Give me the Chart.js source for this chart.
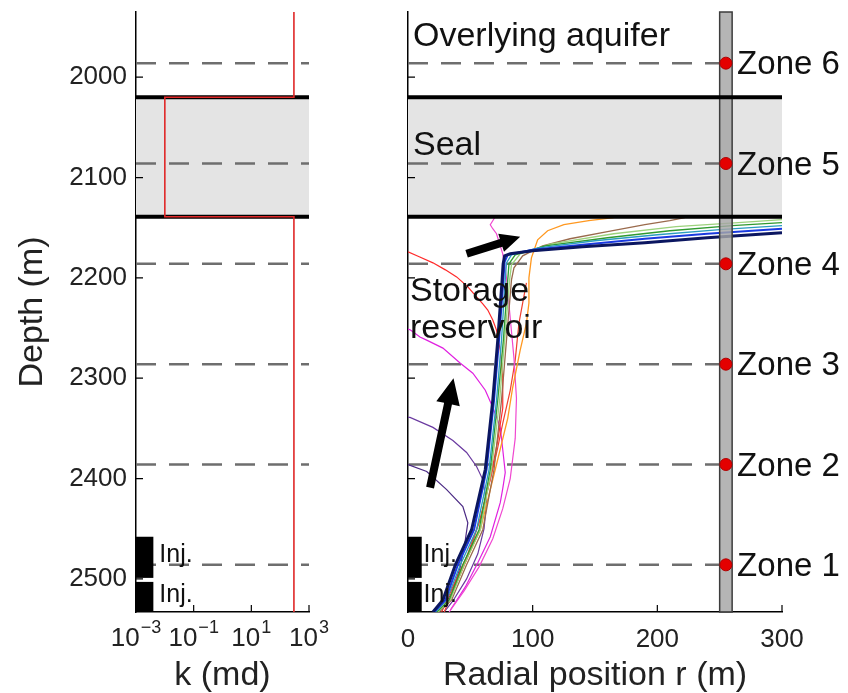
<!DOCTYPE html>
<html>
<head>
<meta charset="utf-8">
<script src="https://cdn.jsdelivr.net/npm/chart.js@4.4.0/dist/chart.umd.min.js"></script>
<style>
  html, body { margin: 0; padding: 0; background: #fff; }
  #wrap { position: relative; width: 848px; height: 693px; overflow: hidden; }
  canvas { position: absolute; top: 0; }
  #kCanvas { left: 0; }
  #rCanvas { left: 380px; }
</style>
</head>
<body>
<div id="wrap">
  <canvas id="kCanvas" width="380" height="693"></canvas>
  <canvas id="rCanvas" width="468" height="693"></canvas>
</div>
<script>
// ---- axis ticks ----
const depthTicks = [2000, 2100, 2200, 2300, 2400, 2500];
const kTicks = [1e-3, 1e-1, 1e1, 1e3];
const kExponents = ['\u22123', '\u22121', '1', '3'];
const rTicks = [0, 100, 200, 300];
const depthMin = 1935, depthMax = 2533;

// ---- layering ----
const sealTop = 2020, sealBase = 2139;
const kAquifer = 300, kSeal = 0.01;
const injTops = [2458, 2503];
const injBases = [2499, 2533];

// ---- monitoring well and zones ----
const wellInner = 250, wellOuter = 260, zoneRadius = 255;
const zoneNames = ['Zone 1', 'Zone 2', 'Zone 3', 'Zone 4', 'Zone 5', 'Zone 6'];
const zoneDepths = [2486, 2386, 2286, 2186, 2086, 1986];

// ---- plume outlines: [radius r (m), depth (m)] ----
const plumeVioletB = [[0,2386],[15,2393],[31,2411],[44,2428],[48,2444],[46,2461],[42,2488],[35,2514],[27,2531]];
const plumeVioletA = [[0,2339],[1.6,2339],[20,2349],[36,2362],[47,2374],[55,2388],[60,2401],[63,2424],[61,2450],[56,2475],[47,2500],[36,2522],[29,2533]];
const plumeMagenta = [[0,2251],[2,2252],[9.6,2259],[15,2262],[28,2270],[42,2285],[52,2295],[62,2312],[68,2329],[74,2349],[76,2371],[78,2394],[76,2410],[74,2424],[66,2458],[56,2484],[46,2508],[34,2531]];
const plumeRed = [[0,2174],[9,2179],[20,2185],[30,2192],[39,2199],[48,2209],[55,2219],[60,2226],[64,2232],[68,2242],[71,2252],[74,2272],[76,2300],[76,2330],[72,2362],[66,2400],[58,2440],[48,2475],[37,2505],[27,2533]];
const plumeRed2 = [[95,2205],[92,2225],[89,2245],[87.6,2262],[86,2282],[82,2312],[76,2345],[71.5,2372],[66,2401],[58,2440],[48,2478],[37,2510],[29,2533]];
const plumePink = [[70,2139],[68,2143],[66,2147],[68,2151],[71,2156],[73,2164],[76,2176],[79,2200],[82,2240],[85,2280],[87,2320],[86,2360],[82,2400],[76,2430],[68,2460],[57,2488],[45,2512],[33,2533]];
const plumeOrange = [[24,2533],[33,2521],[45,2486],[58,2451],[70,2391],[80,2340],[84,2309],[90,2272],[95,2245],[97,2225],[97,2200],[99,2180],[104,2162],[112,2153],[125,2147],[145,2143],[165,2140]];
const plumeBrown = [[25,2533],[35,2521],[47,2486],[60,2451],[69,2391],[75,2322],[79,2262],[83,2202],[85,2190],[92,2178],[108,2168],[130,2161],[160,2154],[190,2147],[210,2143],[222,2140]];
const plumeLightGreen = [[24,2533],[34,2521],[45,2486],[58,2451],[67,2391],[73.5,2322],[77.5,2262],[81.5,2202],[83,2187],[90,2176],[115,2166],[165,2156],[215,2149],[265,2145],[300,2142]];
const plumeGreen = [[23,2533],[33,2521],[44,2486],[57,2451],[66,2391],[72,2322],[76.5,2262],[80,2202],[81,2186],[86,2177],[110,2168],[160,2160],[210,2153],[260,2148],[300,2145]];
const plumeTeal = [[22,2533],[31,2521],[42,2486],[55,2451],[65,2391],[71,2322],[75,2262],[78,2202],[79,2185],[83,2177],[105,2170],[150,2163],[200,2157],[250,2152],[300,2148]];
const plumeBlue = [[21,2533],[30,2521],[40,2486],[53,2451],[63,2391],[69,2322],[73,2262],[76.5,2202],[77.5,2184],[80,2177],[100,2172],[140,2167],[190,2161],[240,2156],[300,2151]];
const plumeNavy = [[20,2533],[28,2521],[38,2486],[51,2451],[62,2391],[68,2322],[72,2262],[75.5,2202],[76.3,2186],[77.5,2178],[82,2176],[100,2173],[140,2169],[190,2165],[240,2160],[300,2155]];

// drawing order: first entry ends up on top
const plumes = [
  { data: plumeNavy, color: '#0b1660', width: 3 },
  { data: plumeBlue, color: '#1a3ae0', width: 2 },
  { data: plumeTeal, color: '#2a9cc0', width: 1.3 },
  { data: plumeGreen, color: '#2f9a2f', width: 1.3 },
  { data: plumeLightGreen, color: '#9cd27c', width: 1.3 },
  { data: plumeBrown, color: '#9a6a4c', width: 1.3 },
  { data: plumeOrange, color: '#ff9820', width: 1.3 },
  { data: plumePink, color: '#f048d0', width: 1.2 },
  { data: plumeRed2, color: '#f04030', width: 1.2 },
  { data: plumeRed, color: '#ff2a2a', width: 1.2 },
  { data: plumeMagenta, color: '#e020e0', width: 1.2 },
  { data: plumeVioletA, color: '#6a3aa0', width: 1.2 },
  { data: plumeVioletB, color: '#4b2a84', width: 1.2 }
];

const FONT = '"Liberation Sans", Arial, Helvetica, sans-serif';
Chart.defaults.font.family = FONT;
Chart.defaults.color = '#222';

const toXY = pts => pts.map(p => ({ x: p[0], y: p[1] }));
const hLine = (x0, x1, d) => [{ x: x0, y: d }, { x: x1, y: d }];

function depthScale(withLabels) {
  return {
    type: 'linear', reverse: true, min: depthMin, max: depthMax,
    afterBuildTicks: s => { s.ticks = depthTicks.map(v => ({ value: v })); },
    afterFit: s => { s.width = withLabels ? 136 : 28; s.paddingTop = 0; s.paddingBottom = 0; },
    grid: { display: false, drawTicks: false },
    border: { display: true, color: '#000', width: 1.5 },
    ticks: { display: withLabels, padding: 9, color: '#222', font: { size: 26 }, callback: v => String(v) },
    title: { display: withLabels, text: 'Depth (m)', color: '#222', font: { size: 34, lineHeight: 1 }, padding: { top: 16, bottom: 0 } }
  };
}

// inward tick marks on the left and bottom axes
const inwardTicks = {
  id: 'inwardTicks',
  afterDraw(chart) {
    const { ctx, chartArea: a, scales: { x, y } } = chart;
    ctx.save();
    ctx.strokeStyle = '#000';
    ctx.lineWidth = 1.2;
    ctx.beginPath();
    x.ticks.forEach(t => { const px = x.getPixelForValue(t.value); ctx.moveTo(px, a.bottom); ctx.lineTo(px, a.bottom - 7); });
    y.ticks.forEach(t => { const py = y.getPixelForValue(t.value); ctx.moveTo(a.left, py); ctx.lineTo(a.left + 7, py); });
    ctx.stroke();
    ctx.restore();
  }
};

// seal shading and injection intervals, shared by both panels
function sealShade(chart) {
  const { ctx, chartArea: a, scales: { y } } = chart;
  const y0 = y.getPixelForValue(sealTop), y1 = y.getPixelForValue(sealBase);
  ctx.save();
  ctx.fillStyle = '#e4e4e4';
  ctx.fillRect(a.left, y0, a.right - a.left, y1 - y0);
  ctx.restore();
}
function injBlocks(chart, xFrom, xTo, labelX) {
  const { ctx, scales: { x, y } } = chart;
  const px0 = x.getPixelForValue(xFrom), px1 = x.getPixelForValue(xTo);
  ctx.save();
  ctx.fillStyle = '#000';
  injTops.forEach((top, i) => {
    const y0 = y.getPixelForValue(top), y1 = y.getPixelForValue(injBases[i]);
    ctx.fillRect(px0, y0, px1 - px0, y1 - y0);
  });
  ctx.font = '25px ' + FONT;
  ctx.fillStyle = '#111';
  ctx.textBaseline = 'alphabetic';
  ctx.textAlign = 'left';
  ctx.fillText('Inj.', labelX, y.getPixelForValue(2483));
  ctx.fillText('Inj.', labelX, y.getPixelForValue(2523));
  ctx.restore();
}

// ---------------- permeability panel ----------------
const kPanel = {
  id: 'kPanel',
  beforeDatasetsDraw(chart) { sealShade(chart); },
  afterDatasetsDraw(chart) {
    const px = chart.scales.x.getPixelForValue(4e-3);
    injBlocks(chart, 1e-3, 4e-3, px + 6);
  },
  afterDraw(chart) {
    const { ctx, chartArea: a, scales: { x } } = chart;
    ctx.save();
    ctx.fillStyle = '#222';
    ctx.textBaseline = 'alphabetic';
    ctx.textAlign = 'left';
    kTicks.forEach((v, i) => {
      const cx = x.getPixelForValue(v);
      ctx.font = '26px ' + FONT;
      const wb = ctx.measureText('10').width;
      ctx.font = '18px ' + FONT;
      const we = ctx.measureText(kExponents[i]).width;
      const left = cx - (wb + we + 1) / 2;
      ctx.font = '26px ' + FONT;
      ctx.fillText('10', left, a.bottom + 34);
      ctx.font = '18px ' + FONT;
      ctx.fillText(kExponents[i], left + wb + 1, a.bottom + 21);
    });
    ctx.restore();
  }
};

const kProfile = [
  { x: kAquifer, y: depthMin }, { x: kAquifer, y: sealTop }, { x: kSeal, y: sealTop },
  { x: kSeal, y: sealBase }, { x: kAquifer, y: sealBase }, { x: kAquifer, y: depthMax }
];

new Chart(document.getElementById('kCanvas'), {
  type: 'scatter',
  data: {
    datasets: [
      { label: 'k', data: kProfile, showLine: true, borderColor: '#e02828', borderWidth: 1.6, pointRadius: 0 },
      { label: 'Seal top', data: hLine(1e-3, 1e3, sealTop), showLine: true, borderColor: '#000', borderWidth: 4, pointRadius: 0 },
      { label: 'Seal base', data: hLine(1e-3, 1e3, sealBase), showLine: true, borderColor: '#000', borderWidth: 4, pointRadius: 0 },
      ...zoneDepths.map(d => ({ label: 'level', data: hLine(1e-3, 1e3, d), showLine: true, borderColor: '#6e6e6e', borderWidth: 2.5, borderDash: [20, 13], pointRadius: 0 }))
    ]
  },
  options: {
    responsive: false, animation: false, devicePixelRatio: 1,
    layout: { padding: { left: 0, top: 12, right: 71, bottom: 0 } },
    plugins: { legend: { display: false }, tooltip: { enabled: false } },
    scales: {
      x: {
        type: 'logarithmic', min: 1e-3, max: 1e3,
        afterBuildTicks: s => { s.ticks = kTicks.map(v => ({ value: v })); },
        afterFit: s => { s.height = 81; s.paddingLeft = 0; s.paddingRight = 0; },
        grid: { display: false, drawTicks: false },
        border: { display: true, color: '#000', width: 1.5 },
        ticks: { display: false },
        title: { display: true, text: 'k (md)', color: '#222', font: { size: 34, lineHeight: 1 }, padding: { top: 0, bottom: 0 } }
      },
      y: depthScale(true)
    }
  },
  plugins: [kPanel, inwardTicks]
});

// ---------------- radial panel ----------------
function drawArrow(ctx, x0, y0, x1, y1, shaft, headLen, headW) {
  const ang = Math.atan2(y1 - y0, x1 - x0);
  const len = Math.hypot(x1 - x0, y1 - y0);
  ctx.save();
  ctx.translate(x0, y0);
  ctx.rotate(ang);
  ctx.beginPath();
  ctx.moveTo(0, -shaft / 2);
  ctx.lineTo(len - headLen, -shaft / 2);
  ctx.lineTo(len - headLen, -headW / 2);
  ctx.lineTo(len, 0);
  ctx.lineTo(len - headLen, headW / 2);
  ctx.lineTo(len - headLen, shaft / 2);
  ctx.lineTo(0, shaft / 2);
  ctx.closePath();
  ctx.fillStyle = '#000';
  ctx.fill();
  ctx.restore();
}

const rPanel = {
  id: 'rPanel',
  beforeDatasetsDraw(chart) { sealShade(chart); },
  beforeDatasetDraw(chart, args) {
    // the monitoring well sits over the plume outlines, under the seal lines
    if (chart.data.datasets[args.index].label !== 'Seal base') return;
    const { ctx, chartArea: a, scales: { x } } = chart;
    const x0 = x.getPixelForValue(wellInner), x1 = x.getPixelForValue(wellOuter);
    ctx.save();
    ctx.fillStyle = 'rgba(165,165,165,0.82)';
    ctx.fillRect(x0, a.top, x1 - x0, a.bottom - a.top);
    ctx.strokeStyle = '#3c3c3c';
    ctx.lineWidth = 1.5;
    ctx.strokeRect(x0, a.top, x1 - x0, a.bottom - a.top);
    ctx.restore();
  },
  afterDatasetsDraw(chart) {
    const { ctx, scales: { x, y } } = chart;
    injBlocks(chart, 0, 11, x.getPixelForValue(12.5));
    const P = (r, d) => [x.getPixelForValue(r), y.getPixelForValue(d)];
    const a1 = P(17.7, 2409), b1 = P(36.5, 2300);
    drawArrow(ctx, a1[0], a1[1], b1[0], b1[1], 8, 26, 24);
    const a2 = P(47, 2176), b2 = P(90, 2159);
    drawArrow(ctx, a2[0], a2[1], b2[0], b2[1], 8, 20, 19);

    ctx.save();
    ctx.fillStyle = '#111';
    ctx.textAlign = 'left';
    ctx.textBaseline = 'alphabetic';
    ctx.font = '34px ' + FONT;
    ctx.fillText('Overlying aquifer', x.getPixelForValue(4), y.getPixelForValue(1969));
    ctx.fillText('Seal', x.getPixelForValue(4), y.getPixelForValue(2078));
    ctx.fillText('Storage', x.getPixelForValue(1.6), y.getPixelForValue(2223));
    ctx.fillText('reservoir', x.getPixelForValue(1.6), y.getPixelForValue(2260));
    ctx.font = '33px ' + FONT;
    ctx.textBaseline = 'middle';
    zoneNames.forEach((name, i) => {
      ctx.fillText(name, x.getPixelForValue(264), y.getPixelForValue(zoneDepths[i]) + 2);
    });
    ctx.restore();
  }
};

new Chart(document.getElementById('rCanvas'), {
  type: 'scatter',
  data: {
    datasets: [
      { label: 'Zones', data: zoneDepths.map(d => ({ x: zoneRadius, y: d })), showLine: false, pointRadius: 6, pointBackgroundColor: '#e40000', pointBorderColor: '#b00000', pointBorderWidth: 1 },
      { label: 'Seal top', data: hLine(0, 300, sealTop), showLine: true, borderColor: '#000', borderWidth: 4, pointRadius: 0 },
      { label: 'Seal base', data: hLine(0, 300, sealBase), showLine: true, borderColor: '#000', borderWidth: 4, pointRadius: 0 },
      ...plumes.map(p => ({ label: 'plume', data: toXY(p.data), showLine: true, borderColor: p.color, borderWidth: p.width, pointRadius: 0, tension: 0 })),
      ...zoneDepths.map(d => ({ label: 'level', data: hLine(0, wellInner, d), showLine: true, borderColor: '#6e6e6e', borderWidth: 2.5, borderDash: [20, 13], pointRadius: 0 }))
    ]
  },
  options: {
    responsive: false, animation: false, devicePixelRatio: 1,
    layout: { padding: { left: 0, top: 12, right: 66, bottom: 0 } },
    plugins: { legend: { display: false }, tooltip: { enabled: false } },
    scales: {
      x: {
        type: 'linear', min: 0, max: 300,
        afterBuildTicks: s => { s.ticks = rTicks.map(v => ({ value: v })); },
        afterFit: s => { s.height = 81; s.paddingLeft = 0; s.paddingRight = 0; },
        grid: { display: false, drawTicks: false },
        border: { display: true, color: '#000', width: 1.5 },
        ticks: { display: true, padding: 12, color: '#222', font: { size: 26 }, maxRotation: 0, callback: v => String(v) },
        title: { display: true, text: 'Radial position r (m)', color: '#222', font: { size: 34, lineHeight: 1 }, padding: { top: 0, bottom: 0 } }
      },
      y: depthScale(false)
    }
  },
  plugins: [rPanel, inwardTicks]
});
</script>
</body>
</html>
